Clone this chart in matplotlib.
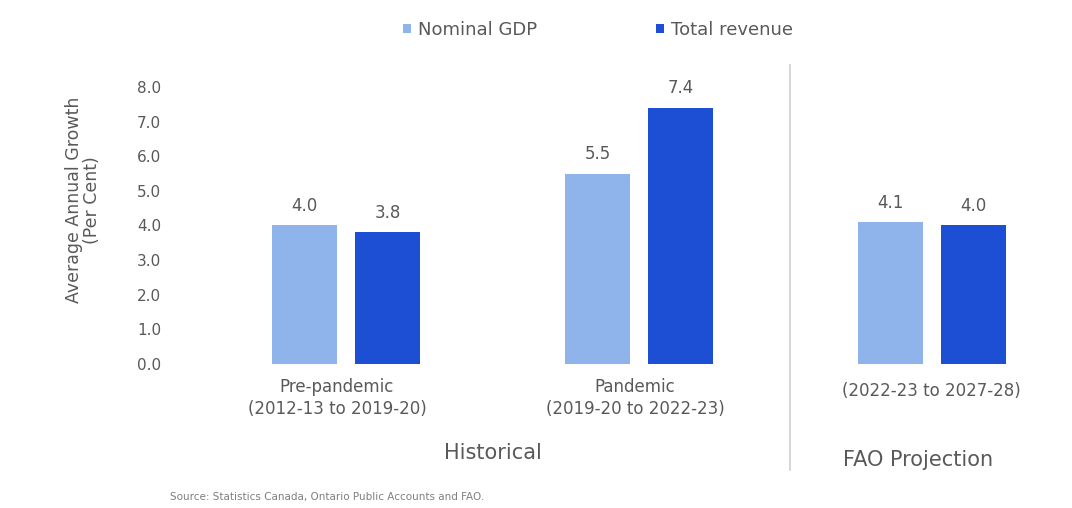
import matplotlib.pyplot as plt
import numpy as np
from matplotlib.lines import Line2D

# average annual growth, per cent
periods = ['Pre-pandemic\n(2012-13 to 2019-20)',
           'Pandemic\n(2019-20 to 2022-23)',
           '(2022-23 to 2027-28)']
nominal_gdp = [4.0, 5.5, 4.1]
total_revenue = [3.8, 7.4, 4.0]
yticks = [0.0, 1.0, 2.0, 3.0, 4.0, 5.0, 6.0, 7.0, 8.0]

light = '#8fb4ec'
dark = '#1c4fd4'
txt = '#595959'

W, H = 1072, 508
fig = plt.figure(figsize=(W/100, H/100), dpi=100)
ax = fig.add_axes([175/W, 1-364/H, (1060-175)/W, (364-80)/H])

x = np.arange(len(periods))
off = 0.1416
w = 0.222
b1 = ax.bar(x - off, nominal_gdp, w, color=light, label='Nominal GDP')
b2 = ax.bar(x + off, total_revenue, w, color=dark, label='Total revenue')

for bars, vals in [(b1, nominal_gdp), (b2, total_revenue)]:
    for r, v in zip(bars, vals):
        ax.text(r.get_x() + r.get_width()/2, v + 0.3, f'{v:.1f}',
                ha='center', va='bottom', fontsize=12, color=txt)

ax.set_xlim(-0.584, 2.437)
ax.set_ylim(0, 8.2)
ax.set_yticks(yticks)
ax.set_yticklabels([f'{t:.1f}' for t in yticks], fontsize=11, color=txt)
ax.tick_params(axis='y', length=0, pad=10)
ax.set_xticks([])
for s in ax.spines.values():
    s.set_visible(False)

fig.text(83/W, 1-200/H, 'Average Annual Growth\n(Per Cent)', rotation=90,
         ha='center', va='center', fontsize=12.5, color=txt, linespacing=1.0)

# period labels under the bars
label_x = [337, 635, 931]
for lx, lab in zip(label_x, periods):
    yc = 398 if '\n' in lab else 391
    fig.text(lx/W, 1-yc/H, lab, ha='center', va='center',
             fontsize=12, color=txt, linespacing=1.25)

fig.text(493/W, 1-453/H, 'Historical', ha='center', va='center',
         fontsize=15, color=txt)
fig.text(918/W, 1-460/H, 'FAO Projection', ha='center', va='center',
         fontsize=15, color=txt)

# divider between history and projection
fig.add_artist(Line2D([790/W, 790/W], [1-65/H, 1-470/H],
                      transform=fig.transFigure, color='#d0d0d0', lw=1.2))

fig.legend(handles=[b1, b2], loc='center', bbox_to_anchor=(598/W, 1-30/H),
           ncol=2, frameon=False, fontsize=13, handlelength=0.45, handleheight=0.45,
           columnspacing=6.6, handletextpad=0.4, labelcolor=txt)

fig.text(170/W, 1-497/H,
         'Source: Statistics Canada, Ontario Public Accounts and FAO.',
         ha='left', va='center', fontsize=7.5, color='#7f7f7f')

fig.savefig('out.png', dpi=100)
